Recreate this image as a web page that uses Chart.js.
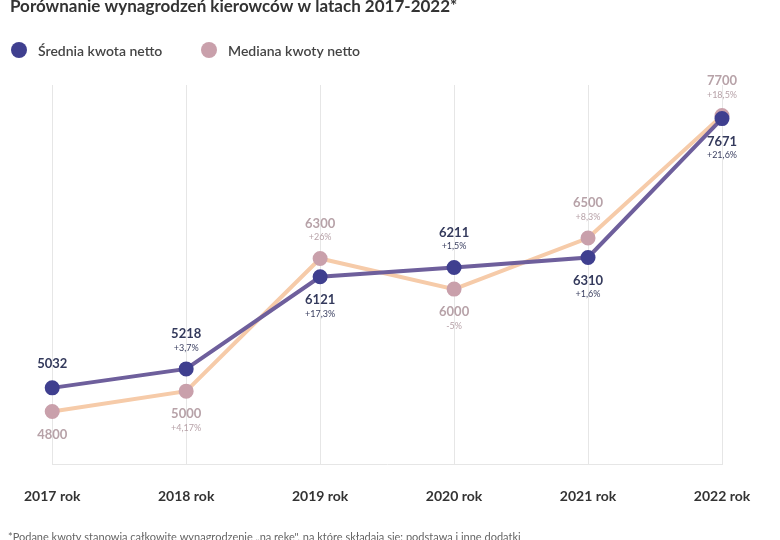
<!DOCTYPE html>
<html>
<head>
<meta charset="utf-8">
<script src="https://cdn.jsdelivr.net/npm/chart.js@4/dist/chart.umd.min.js"></script>
<style>
	html, body { margin: 0; padding: 0; background: #fff; }
	#wrap { width: 780px; height: 540px; }
</style>
</head>
<body>
<div id="wrap"><canvas id="chart"></canvas></div>
<script>
const categories = ['2017 rok', '2018 rok', '2019 rok', '2020 rok', '2021 rok', '2022 rok'];
const avgValues = [5032, 5218, 6121, 6211, 6310, 7671];
const medianValues = [4800, 5000, 6300, 6000, 6500, 7700];
const avgChange = ['', '+3,7%', '+17,3%', '+1,5%', '+1,6%', '+21,6%'];
const medianChange = ['', '+4,17%', '+26%', '-5%', '+8,3%', '+18,5%'];
// where each value label sits relative to its point
const avgSide = ['up', 'up', 'down', 'up', 'down', 'down'];
const medianSide = ['down', 'down', 'up', 'down', 'up', 'up'];

const font = "Lato, 'Noto Sans', sans-serif";

const decor = {
	id: 'decor',
	afterDraw(chart) {
		const c = chart.ctx;
		c.save();
		c.fillStyle = '#333';
		c.font = 'bold 17px ' + font;
		c.textBaseline = 'alphabetic';
		c.fillText('Porównanie wynagrodzeń kierowców w latach 2017-2022*', 10, 12);
		// legend
		c.font = '600 14px ' + font;
		c.fillStyle = '#3f3f8f';
		c.beginPath(); c.arc(19, 50, 8, 0, Math.PI * 2); c.fill();
		c.fillStyle = '#c9a0ab';
		c.beginPath(); c.arc(209, 50, 8, 0, Math.PI * 2); c.fill();
		c.fillStyle = '#444';
		c.textBaseline = 'middle';
		c.fillText('Średnia kwota netto', 38, 51);
		c.fillText('Mediana kwoty netto', 228, 51);
		// footnote
		c.font = '11px ' + font;
		c.fillStyle = '#666';
		c.textBaseline = 'alphabetic';
		c.fillText('*Podane kwoty stanowią całkowite wynagrodzenie „na rękę", na które składają się: podstawa i inne dodatki', 8, 541);
		// value labels
		const drawLabels = (di, vals, chg, side, col, pcol) => {
			chart.getDatasetMeta(di).data.forEach((p, i) => {
				c.textAlign = 'center';
				c.textBaseline = 'middle';
				let vy, py;
				if (side[i] === 'up') {
					vy = chg[i] ? p.y - 35 : p.y - 24;
					py = p.y - 21;
				} else {
					vy = p.y + 23;
					py = p.y + 37;
				}
				c.font = 'bold 13px ' + font;
				c.fillStyle = col;
				c.fillText(String(vals[i]), p.x, vy);
				if (chg[i]) {
					c.font = '9px ' + font;
					c.fillStyle = pcol;
					c.fillText(chg[i], p.x, py);
				}
			});
		};
		drawLabels(0, avgValues, avgChange, avgSide, '#343a5c', '#3a3f60');
		drawLabels(1, medianValues, medianChange, medianSide, '#b7a2a8', '#b7a2a8');
		c.restore();
	}
};

new Chart(document.getElementById('chart'), {
	type: 'line',
	data: {
		labels: categories,
		datasets: [{
			label: 'Średnia kwota netto',
			data: avgValues,
			borderColor: '#6e5f9c',
			backgroundColor: '#3f3f8f',
			pointBackgroundColor: '#3f3f8f',
			pointBorderColor: '#3f3f8f',
			borderWidth: 4,
			pointRadius: 5.5,
			tension: 0
		}, {
			label: 'Mediana kwoty netto',
			data: medianValues,
			borderColor: '#f6cba9',
			backgroundColor: '#c9a0ab',
			pointBackgroundColor: '#c9a0ab',
			pointBorderColor: '#c9a0ab',
			borderWidth: 4,
			pointRadius: 5.5,
			tension: 0
		}]
	},
	options: {
		responsive: true,
		maintainAspectRatio: false,
		animation: false,
		layout: { padding: { top: 85, left: 32, right: 58, bottom: 11 } },
		plugins: { legend: { display: false }, tooltip: { enabled: false } },
		scales: {
			x: {
				offset: false,
				grid: { color: '#e6e6e6', drawTicks: false },
				border: { color: '#e6e6e6' },
				ticks: { color: '#333', padding: 24, font: { family: font, size: 14, weight: 'bold' } }
			},
			y: { display: false, min: 4284, max: 8000 }
		}
	},
	plugins: [decor]
});
</script>
</body>
</html>
